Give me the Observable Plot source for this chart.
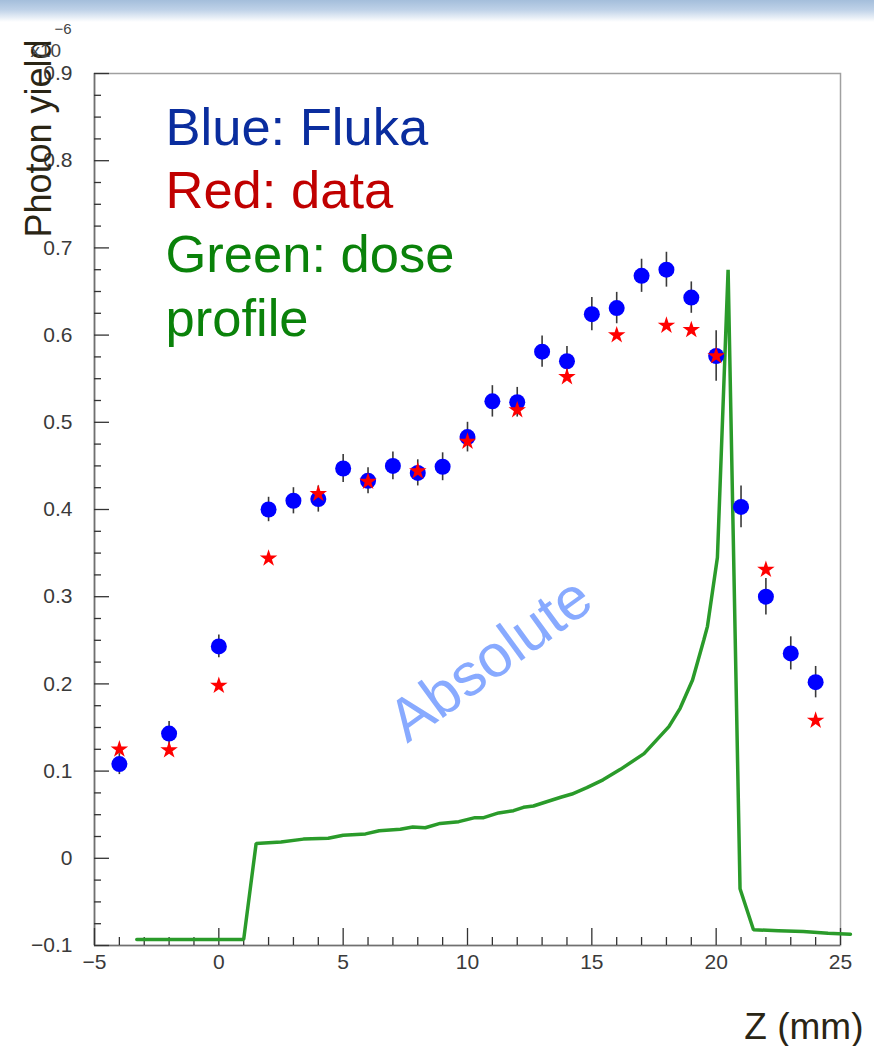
<!DOCTYPE html>
<html>
<head>
<meta charset="utf-8">
<script src="https://cdn.jsdelivr.net/npm/d3@7"></script>
<script src="https://cdn.jsdelivr.net/npm/@observablehq/plot@0.6"></script>
<style>
  html, body { margin: 0; padding: 0; background: #fff; }
  #wrap { position: relative; width: 874px; height: 1046px; overflow: hidden; }
  #band { position: absolute; left: 0; top: 0; width: 874px; height: 22px;
          background: linear-gradient(#a4bedb, #bfd2e8 45%, #ffffff); }
  #chart { position: absolute; left: 0; top: 0; }
</style>
</head>
<body>
<div id="wrap"><div id="band"></div><div id="chart"></div></div>
<script>
// FLUKA simulation: photon yield (×10⁻⁶) per depth bin, with statistical errors
const zFluka = [-4, -2, 0, 2, 3, 4, 5, 6, 7, 8, 9, 10, 11, 12, 13, 14, 15, 16, 17, 18, 19, 20, 21, 22, 23, 24];
const yFluka = [0.108, 0.143, 0.243, 0.400, 0.410, 0.412, 0.447, 0.433, 0.450, 0.442, 0.449, 0.483, 0.524, 0.523,
                0.581, 0.570, 0.624, 0.631, 0.668, 0.675, 0.643, 0.576, 0.403, 0.300, 0.235, 0.202];
const errFluka = [0.012, 0.014, 0.013, 0.014, 0.015, 0.015, 0.016, 0.015, 0.016, 0.015, 0.016, 0.017, 0.018, 0.017,
                  0.018, 0.017, 0.019, 0.018, 0.019, 0.020, 0.018, 0.029, 0.024, 0.021, 0.019, 0.018];

// Measured photon yield
const zData = [-4, -2, 0, 2, 4, 6, 8, 10, 12, 14, 16, 18, 19, 20, 22, 24];
const yData = [0.125, 0.124, 0.198, 0.344, 0.418, 0.432, 0.444, 0.478, 0.514, 0.552, 0.600, 0.611, 0.606, 0.576, 0.331, 0.158];

// Depth-dose profile (arbitrary units, drawn on the same axis)
const zDose = [-3.3, 1.0, 1.5, 2.5, 3.4, 4.4, 5.0, 5.9, 6.45, 7.3, 7.8, 8.3, 8.9, 9.65, 10.3, 10.65, 11.25, 11.85,
               12.25, 12.65, 13.15, 13.75, 14.2, 14.8, 15.45, 16.15, 17.1, 18.1, 18.55, 19.05, 19.5, 19.65, 20.05,
               20.48, 20.96, 21.5, 22.5, 23.5, 24.5, 25.4];
const yDose = [-0.093, -0.093, 0.017, 0.0187, 0.022, 0.023, 0.0265, 0.028, 0.0315, 0.0333, 0.036, 0.035, 0.040, 0.042,
               0.0466, 0.0466, 0.052, 0.0546, 0.0585, 0.060, 0.0646, 0.070, 0.0737, 0.081, 0.090, 0.102, 0.120, 0.151,
               0.172, 0.2045, 0.250, 0.266, 0.345, 0.675, -0.035, -0.082, -0.083, -0.084, -0.086, -0.087];

// Axis ticks and labels
const xTickValues = [-5, 0, 5, 10, 15, 20, 25];
const xTickLabels = ["−5", "0", "5", "10", "15", "20", "25"];
const yTickValues = [-0.1, 0, 0.1, 0.2, 0.3, 0.4, 0.5, 0.6, 0.7, 0.8, 0.9];
const yTickLabels = ["−0.1", "0", "0.1", "0.2", "0.3", "0.4", "0.5", "0.6", "0.7", "0.8", "0.9"];
const xMinor = d3.range(-5, 25.001, 1).filter(v => v % 5 !== 0);
const yMinor = d3.range(0, 40).map(i => -0.1 + i * 0.025).filter((v, i) => i % 4 !== 0);

const legendLines = [
  {text: "Blue: Fluka", color: "#0a2d9e"},
  {text: "Red: data", color: "#c00000"},
  {text: "Green: dose", color: "#0a820a"},
  {text: "profile", color: "#0a820a"}
];

const fluka = zFluka.map((z, i) => ({z, y: yFluka[i], e: errFluka[i]}));
const data = zData.map((z, i) => ({z, y: yData[i]}));
const dose = zDose.map((z, i) => ({z, y: yDose[i]}));

const W = 874, H = 1046;
const mL = 94, mR = 34, mT = 73, mB = 101;
const plotW = W - mL - mR, plotH = H - mT - mB;
const font = "'Liberation Sans', Arial, Helvetica, sans-serif";
const narrow = "'Liberation Sans Narrow', 'Arial Narrow', 'Liberation Sans', sans-serif";
const ink = "#2a2515";

const legendMarks = legendLines.map((d, i) => Plot.text([d], {
  text: "text", frameAnchor: "top-left", dx: 71, dy: 71 + i * 63.7,
  textAnchor: "start", lineAnchor: "bottom", fontSize: 52.5, fill: d.color
}));

const chart = Plot.plot({
  width: W, height: H,
  marginLeft: mL, marginRight: mR, marginTop: mT, marginBottom: mB,
  style: {background: "transparent", fontFamily: font, overflow: "visible"},
  x: {domain: [-5, 25]},
  y: {domain: [-0.1, 0.9]},
  marks: [
    Plot.frame({stroke: "#a0a0a0", strokeWidth: 1.5}),
    Plot.ruleX([-5], {stroke: "#707070", strokeWidth: 1.6}),
    Plot.ruleY([-0.1], {stroke: "#707070", strokeWidth: 1.6}),
    // inward ticks
    Plot.tickX(xMinor, {insetTop: plotH - 8, stroke: "#333", strokeWidth: 1.3}),
    Plot.tickX(xTickValues, {insetTop: plotH - 17, stroke: "#333", strokeWidth: 1.3}),
    Plot.tickY(yMinor, {insetRight: plotW - 7, stroke: "#333", strokeWidth: 1.3}),
    Plot.tickY(yTickValues, {insetRight: plotW - 15, stroke: "#333", strokeWidth: 1.3}),
    Plot.axisX({ticks: xTickValues, tickFormat: d => xTickLabels[xTickValues.indexOf(d)],
                tickSize: 0, tickPadding: 9, fontSize: 21, fill: "#3a3a3a", label: null}),
    Plot.axisY({ticks: yTickValues, tickFormat: d => yTickLabels[yTickValues.indexOf(d)],
                tickSize: 0, tickPadding: 22, fontSize: 21, fill: "#3a3a3a", label: null}),
    // dose profile
    Plot.line(dose, {x: "z", y: "y", stroke: "#2a9b2a", strokeWidth: 3.5, strokeLinejoin: "miter"}),
    // FLUKA with error bars
    Plot.ruleX(fluka, {x: "z", y1: d => d.y - d.e, y2: d => d.y + d.e, stroke: "#3a3a3a", strokeWidth: 1.6}),
    Plot.dot(fluka, {x: "z", y: "y", r: 8, fill: "#0000ff", stroke: "none"}),
    // measured data
    Plot.dot(data, {x: "z", y: "y", symbol: "star", r: 5.5, fill: "#ff0000", stroke: "none"}),
    // annotations
    Plot.text(["Absolute"], {text: d => d, frameAnchor: "top-left", dx: 396, dy: 586, rotate: -36,
      textAnchor: "middle", lineAnchor: "middle", fontSize: 60, fill: "#88aaff"}),
    ...legendMarks,
    Plot.text(["Photon yield"], {text: d => d, frameAnchor: "top-left", dx: -44, dy: 65, rotate: -90,
      textAnchor: "middle", lineAnchor: "bottom", fontSize: 36, fill: ink}),
    Plot.text(["x10"], {text: d => d, frameAnchor: "top-left", dx: -64, dy: -17,
      textAnchor: "start", lineAnchor: "bottom", fontSize: 19, fill: "#444"}),
    Plot.text(["−6"], {text: d => d, frameAnchor: "top-left", dx: -40, dy: -40,
      textAnchor: "start", lineAnchor: "bottom", fontSize: 15, fill: "#444"}),
    Plot.text(["Z (mm)"], {text: d => d, frameAnchor: "bottom-right", dx: 23, dy: 93,
      textAnchor: "end", lineAnchor: "bottom", fontSize: 37, fill: ink})
  ]
});
document.getElementById("chart").appendChild(chart);
</script>
</body>
</html>
